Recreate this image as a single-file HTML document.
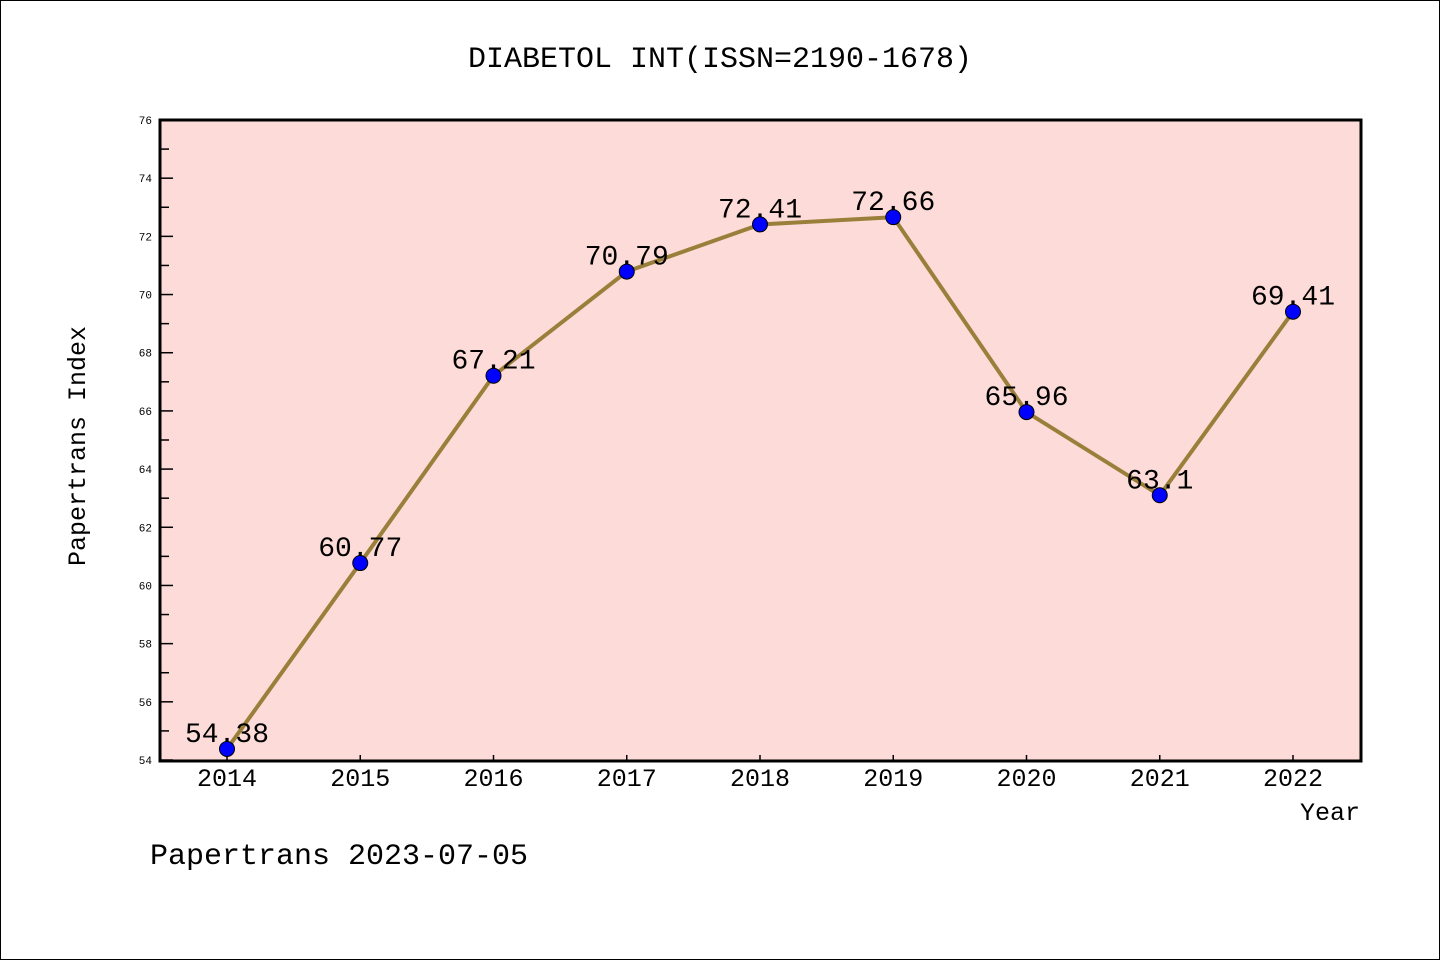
<!DOCTYPE html>
<html><head><meta charset="utf-8"><style>
html,body{margin:0;padding:0;background:#fff}
svg{display:block}
text{font-family:"Liberation Mono","DejaVu Sans Mono",monospace;fill:#000}
</style></head><body>
<svg id="chart" width="1440" height="960" viewBox="0 0 1440 960">
<rect x="0.5" y="0.5" width="1439" height="959" fill="#fff" stroke="#000"/>
<text x="720" y="67" font-size="30" text-anchor="middle">DIABETOL INT(ISSN=2190-1678)</text>
<rect x="160" y="120" width="1201" height="641" fill="#fddbd8"/>
<g id="yticks"></g>
<g id="xticks"></g>
<polyline id="line" fill="none" stroke="#9a7f3a" stroke-width="4"/>
<g id="points"></g>
<rect x="160" y="120" width="1201" height="641" fill="none" stroke="#000" stroke-width="3"/>
<text x="85" y="446" font-size="25" text-anchor="middle" transform="rotate(-90 85 446)">Papertrans Index</text>
<text x="1360" y="820" font-size="25" text-anchor="end">Year</text>
<text x="150" y="864" font-size="30">Papertrans 2023-07-05</text>
</svg>
<script>
const years = ["2014","2015","2016","2017","2018","2019","2020","2021","2022"];
const values = [54.38,60.77,67.21,70.79,72.41,72.66,65.96,63.1,69.41];
const yTickLabels = [54,56,58,60,62,64,66,68,70,72,74,76];
(function(){
const NS="http://www.w3.org/2000/svg";
const yMin=54,yMax=76,yTop=120,yBot=760;
const y=v=>yBot-(v-yMin)/(yMax-yMin)*(yBot-yTop);
const x=i=>227+i*(1293-227)/(years.length-1);
function mk(t,a){const e=document.createElementNS(NS,t);for(const k in a)e.setAttribute(k,a[k]);return e;}
const yg=document.getElementById('yticks');
for(let v=yMin; v<=yMax; v++){
  const major=(v%2===0);
  const l=mk('line',{x1:160,x2:160+(major?13:9),y1:y(v),y2:y(v),stroke:'#000','stroke-width':1.5});
  
  
  yg.appendChild(l);
}
yTickLabels.forEach(v=>{
  const t=mk('text',{x:152,y:y(v)+4,'font-size':11,'text-anchor':'end'});
  
  
  t.textContent=v;yg.appendChild(t);
});
const xg=document.getElementById('xticks');
years.forEach((yr,i)=>{
  const l=mk('line',{x1:x(i),x2:x(i),y1:761,y2:755,stroke:'#000','stroke-width':1.5});
  
  
  xg.appendChild(l);
  const t=mk('text',{x:x(i),y:786,'font-size':25,'text-anchor':'middle'});
  
  
  t.textContent=yr;xg.appendChild(t);
});
document.getElementById('line').setAttribute('points',values.map((v,i)=>x(i)+','+y(v)).join(' '));
const pg=document.getElementById('points');
values.forEach((v,i)=>{
  const c=mk('circle',{cx:x(i),cy:y(v),r:7.5,fill:'#0000ff',stroke:'#000','stroke-width':1});
  
  
  pg.appendChild(c);
  const t=mk('text',{x:x(i),y:y(v)-7,'font-size':28,'text-anchor':'middle'});
  
  
  t.textContent=String(v);pg.appendChild(t);
});
})();
</script>
</body></html>
